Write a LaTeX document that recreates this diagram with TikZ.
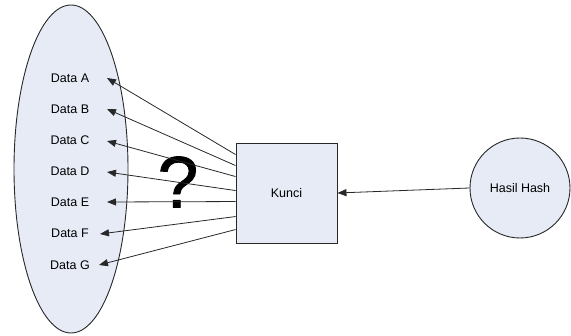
\documentclass[tikz,border=0pt]{standalone}
\usepackage{fontspec}
\setmainfont{Liberation Sans}
\newfontfamily\qfont[FakeBold=1.2]{Liberation Sans}
\usetikzlibrary{arrows.meta,calc,shapes.geometric}
\definecolor{shapefill}{RGB}{230,235,246}
\definecolor{edgecol}{RGB}{40,40,40}
\begin{document}
\begin{tikzpicture}[x=1pt,y=-1pt,
  shapeline/.style={draw=edgecol,line width=0.9pt,fill=shapefill},
  lbl/.style={font=\fontsize{12.5}{14}\selectfont,inner sep=0pt},
  conn/.style={draw=edgecol,line width=0.8pt,-{Triangle[length=9pt,width=7pt]}}]
\useasboundingbox (0,0) rectangle (571,336);
\node[shapeline,ellipse,minimum width=114pt,minimum height=328pt,inner sep=0pt] (set) at (71,169) {};
\node[shapeline,rectangle,minimum width=101pt,minimum height=100pt,inner sep=0pt] (kunci) at (286.5,193) {};
\node[lbl] (kt) at (286.5,193) {Kunci};
\node[shapeline,circle,minimum size=100pt,inner sep=0pt] (hash) at (520,188) {};
\node[lbl] (ht) at (520,188) {Hasil Hash};
\node[lbl] (dA) at (70,78) {Data A};
\node[lbl] (dB) at (70,109) {Data B};
\node[lbl] (dC) at (70,140) {Data C};
\node[lbl] (dD) at (70,171) {Data D};
\node[lbl] (dE) at (70,202) {Data E};
\node[lbl] (dF) at (70,233) {Data F};
\node[lbl] (dG) at (70,265) {Data G};
\coordinate (tA) at (107,78);
\coordinate (tB) at (107,109);
\coordinate (tC) at (107,141);
\coordinate (tD) at (107,172);
\coordinate (tE) at (107,202);
\coordinate (tF) at (100,234);
\coordinate (tG) at (99,265);
\node[font=\qfont\fontsize{73}{73}\selectfont,inner sep=0pt,anchor=base] (q) at (178,207.5) {?};
\draw[conn] ($(kunci.north west)+(0,12)$) -- (tA);
\draw[conn] ($(kunci.north west)+(0,23)$) -- (tB);
\draw[conn] ($(kunci.north west)+(0,34)$) -- (tC);
\draw[conn] ($(kunci.north west)+(0,48)$) -- (tD);
\draw[conn] ($(kunci.north west)+(0,59)$) -- (tE);
\draw[conn] ($(kunci.north west)+(0,74)$) -- (tF);
\draw[conn] ($(kunci.north west)+(0,87)$) -- (tG);
\draw[conn] (hash.west) -- (kunci.east);
\end{tikzpicture}
\end{document}
